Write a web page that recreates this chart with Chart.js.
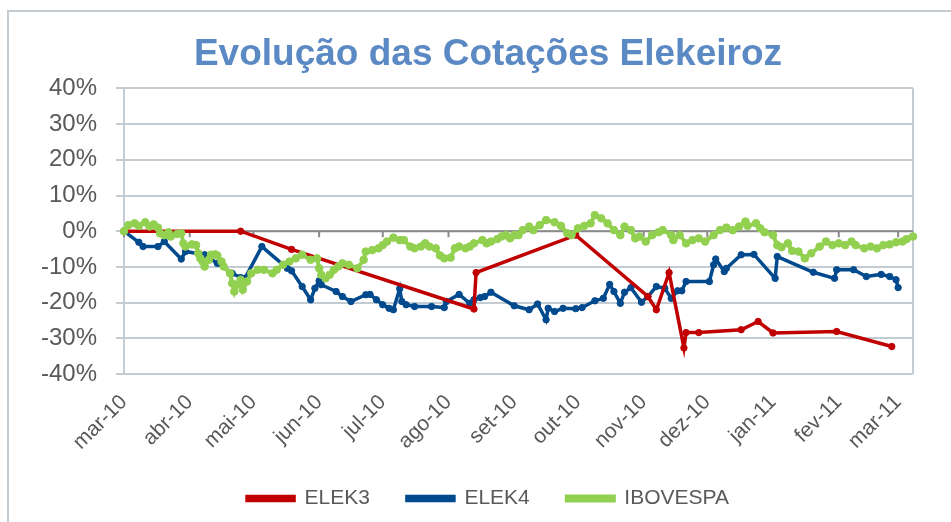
<!DOCTYPE html>
<html lang="pt-BR">
<head>
<meta charset="utf-8">
<title>Evolução das Cotações Elekeiroz</title>
<script src="https://cdn.jsdelivr.net/npm/chart.js@4/dist/chart.umd.min.js"></script>
<style>
    html, body { margin: 0; padding: 0; background: #fff; }
    #wrap { position: relative; width: 951px; height: 522px; }
    #moldura {
        position: absolute; left: 7px; top: 10px; right: -4px; bottom: -4px;
        border-left: 2px solid #c3cbd2; border-top: 2px solid #c3cbd2;
        pointer-events: none;
    }
</style>
</head>
<body>
<div id="wrap">
    <canvas id="grafico" width="951" height="522"></canvas>
    <div id="moldura"></div>
</div>
<script>
// Eixo X: dias contados a partir de 01/03/2010
const inicioMes = [0, 31, 61, 92, 122, 153, 184, 214, 245, 275, 306, 337, 365];
const rotulosMes = ['mar-10', 'abr-10', 'mai-10', 'jun-10', 'jul-10', 'ago-10', 'set-10',
    'out-10', 'nov-10', 'dez-10', 'jan-11', 'fev-11', 'mar-11'];

// ELEK3 (variação %)
const diasELEK3 = [0, 55, 79, 165, 166, 213, 247, 251, 257, 264, 265, 271, 291, 299, 306, 336, 362];
const valoresELEK3 = [0, 0, -5.1, -21.8, -11.6, -1.1, -18.3, -22, -11.6, -32.7, -28.4, -28.4,
    -27.6, -25.3, -28.5, -28.1, -32.3];

// ELEK4 (variação %)
const diasELEK4 = [0, 7, 9, 16, 19, 27, 29, 38, 44, 51, 55, 57, 65, 77, 79, 84, 88, 90, 92, 93,
    100, 103, 107, 114, 116, 119, 122, 125, 127, 130, 131, 133, 137, 145, 151, 152, 158, 163,
    165, 168, 170, 173, 184, 191, 195, 199, 200, 203, 207, 213, 216, 222, 226, 229, 231, 234,
    236, 239, 244, 247, 251, 255, 258, 261, 263, 265, 276, 278, 279, 283, 284, 291, 297, 307,
    308, 325, 335, 336, 344, 350, 357, 361, 364, 365];
const valoresELEK4 = [0, -3.1, -4.3, -4.3, -2.9, -7.8, -5.7, -6.6, -9, -11.8, -13, -13.2, -4.3,
    -10.4, -11.1, -15.5, -19.2, -16, -13.9, -15, -16.9, -18.3, -19.7, -17.8, -17.7, -19.2, -20.6,
    -21.6, -22, -16.1, -19.7, -20.6, -21.1, -21.1, -21.4, -19.7, -17.7, -20.2, -19.2, -18.6, -18.3,
    -17.1, -20.9, -22, -20.4, -24.8, -21.6, -22.5, -21.6, -21.7, -21.4, -19.5, -18.8, -14.9, -16.9,
    -20.2, -17.1, -15.8, -19.9, -18.3, -15.5, -16, -18.8, -16.7, -16.7, -14.1, -14.1, -9.4, -7.8,
    -11.3, -10.4, -6.6, -6.5, -13.2, -7.1, -11.5, -13.2, -10.8, -10.8, -12.7, -12.1, -12.7, -13.6,
    -15.8];

// IBOVESPA (variação %)
const diasIBOV = [0, 2, 5, 7, 10, 12, 14, 16, 17, 19, 21, 22, 25, 27, 28, 29, 32, 34, 35, 36, 37,
    38, 40, 41, 43, 44, 46, 47, 50, 51, 52, 53, 55, 56, 58, 60, 63, 66, 70, 72, 75, 78, 81, 84, 88,
    91, 92, 93, 95, 97, 99, 101, 103, 106, 110, 113, 114, 117, 120, 122, 124, 127, 130, 132, 135,
    137, 140, 142, 144, 147, 149, 151, 154, 156, 158, 161, 163, 165, 169, 171, 173, 176, 178, 180,
    182, 184, 186, 188, 191, 193, 196, 199, 203, 206, 209, 211, 214, 217, 220, 222, 225, 228, 231,
    234, 236, 239, 241, 243, 246, 249, 252, 254, 258, 259, 262, 265, 268, 271, 274, 278, 281, 284,
    287, 290, 293, 294, 298, 300, 302, 306, 308, 310, 313, 315, 318, 321, 324, 328, 331, 334, 337,
    340, 343, 345, 349, 352, 355, 358, 361, 364, 367, 369, 372];
const valoresIBOV = [0, 1.7, 2.2, 1.5, 2.5, 1.3, 1.9, 1, -0.6, -1.1, -0.3, -1.5, -0.8, -0.6, -3.4,
    -4.3, -3.7, -3.9, -6.2, -7.6, -8.5, -9.9, -8, -6.6, -6.5, -6.8, -8.5, -9.9, -11.8, -14.6, -16.9,
    -15, -13.6, -16.4, -14.1, -11.8, -10.8, -10.8, -11.8, -10.8, -9.4, -8.5, -7.6, -6.6, -8, -7.6,
    -10.4, -12.2, -13.2, -12.2, -10.8, -9.9, -9, -9.4, -10.4, -8, -5.7, -5.3, -4.8, -3.9, -2.9,
    -1.8, -2.5, -2.5, -4.3, -4.8, -4.3, -3.4, -4.3, -4.8, -6.8, -7.6, -7.4, -4.8, -4.3, -4.8, -4.3,
    -3.4, -2.5, -3.4, -2.9, -2.2, -1.5, -1.1, -2, -1.1, -1.1, 0.3, 1.3, 0.3, 1.7, 3.1, 2.5, 1.5,
    -0.6, -1.1, 0.8, 1.5, 2.2, 4.5, 3.6, 2.2, 0.3, -1.1, 1.3, 0.3, -2, -1.5, -2.9, -1.1, -0.3, 0.3,
    -1.1, -2.5, -1.1, -3.4, -2.5, -2, -2.9, -1.1, 0.3, 1, 0.3, 1.3, 2.7, 1.5, 2.2, 0.8, -0.3, -1.1,
    -3.9, -4.5, -3.4, -5.5, -5.7, -7.6, -6.2, -4.3, -2.9, -3.9, -3.4, -3.9, -2.9, -3.9, -4.8, -4.3,
    -4.8, -3.9, -3.7, -3.1, -2.9, -2.2, -1.5];

const corGrade = '#c4ccd3';
const corTexto = '#595959';
const fonte = '"Liberation Sans", Arial, sans-serif';

const pares = (dias, valores) => dias.map((d, i) => ({ x: d, y: valores[i] }));

const serie = (label, dias, valores, cor, ordem, espessura, raio) => ({
    label,
    data: pares(dias, valores),
    borderColor: cor,
    backgroundColor: cor,
    pointBackgroundColor: cor,
    pointBorderColor: cor,
    borderWidth: espessura,
    pointRadius: raio,
    pointBorderWidth: 1,
    tension: 0,
    order: ordem,
    clip: false
});

// Linha do zero com as marcas dos meses e borda direita da área de plotagem
const eixoZero = {
    id: 'eixoZero',
    beforeDatasetsDraw(chart) {
        const { ctx, chartArea, scales } = chart;
        const y0 = scales.y.getPixelForValue(0);
        ctx.save();
        ctx.strokeStyle = corGrade;
        ctx.lineWidth = 2;
        ctx.beginPath();
        ctx.moveTo(chartArea.right, chartArea.top);
        ctx.lineTo(chartArea.right, chartArea.bottom);
        ctx.stroke();
        ctx.strokeStyle = '#8a8a8a';
        ctx.beginPath();
        ctx.moveTo(chartArea.left, y0);
        ctx.lineTo(chartArea.right, y0);
        inicioMes.forEach(d => {
            const x = scales.x.getPixelForValue(d);
            ctx.moveTo(x, y0);
            ctx.lineTo(x, y0 + 6);
        });
        ctx.stroke();
        ctx.restore();
    }
};

new Chart(document.getElementById('grafico').getContext('2d'), {
    type: 'line',
    data: {
        datasets: [
            serie('ELEK3', diasELEK3, valoresELEK3, '#c00000', 1, 3.5, 3.2),
            serie('ELEK4', diasELEK4, valoresELEK4, '#004a8d', 2, 3.5, 3.2),
            serie('IBOVESPA', diasIBOV, valoresIBOV, '#92d050', 0, 4, 3.8)
        ]
    },
    options: {
        responsive: false,
        animation: false,
        layout: { padding: { left: 25, right: 0, top: 0, bottom: 3 } },
        plugins: {
            title: {
                display: true,
                text: 'Evolução das Cotações Elekeiroz',
                color: '#5b89c4',
                font: { family: fonte, size: 37, weight: 'bold' },
                padding: { top: 33, bottom: 11 }
            },
            legend: {
                position: 'bottom',
                labels: {
                    color: corTexto,
                    font: { family: fonte, size: 21 },
                    boxWidth: 47,
                    boxHeight: 4,
                    padding: 37,
                    sort: (a, b) => a.datasetIndex - b.datasetIndex
                }
            },
            tooltip: { enabled: false }
        },
        scales: {
            x: {
                type: 'linear',
                min: 0,
                max: 372,
                afterBuildTicks: scale => {
                    scale.ticks = inicioMes.map(v => ({ value: v }));
                },
                afterFit: scale => { scale.height = 77; },
                grid: { display: false, drawTicks: false },
                border: { display: false },
                ticks: {
                    autoSkip: false,
                    maxRotation: 45,
                    minRotation: 45,
                    padding: 16,
                    color: corTexto,
                    font: { family: fonte, size: 21 },
                    callback: (v, i) => rotulosMes[i]
                }
            },
            y: {
                min: -40,
                max: 40,
                afterFit: scale => { scale.width = 99; },
                grid: { color: corGrade, lineWidth: 2, tickLength: 8 },
                border: { display: true, color: corGrade, width: 2 },
                ticks: {
                    stepSize: 10,
                    padding: 19,
                    color: corTexto,
                    font: { family: fonte, size: 24 },
                    callback: v => v + '%'
                }
            },
            // eixo vazio à direita, só para reservar a margem
            margemDireita: {
                position: 'right',
                min: -40,
                max: 40,
                afterFit: scale => { scale.width = 38; },
                grid: { display: false, drawTicks: false },
                border: { display: false },
                ticks: { display: false }
            }
        }
    },
    plugins: [eixoZero]
});
</script>
</body>
</html>
